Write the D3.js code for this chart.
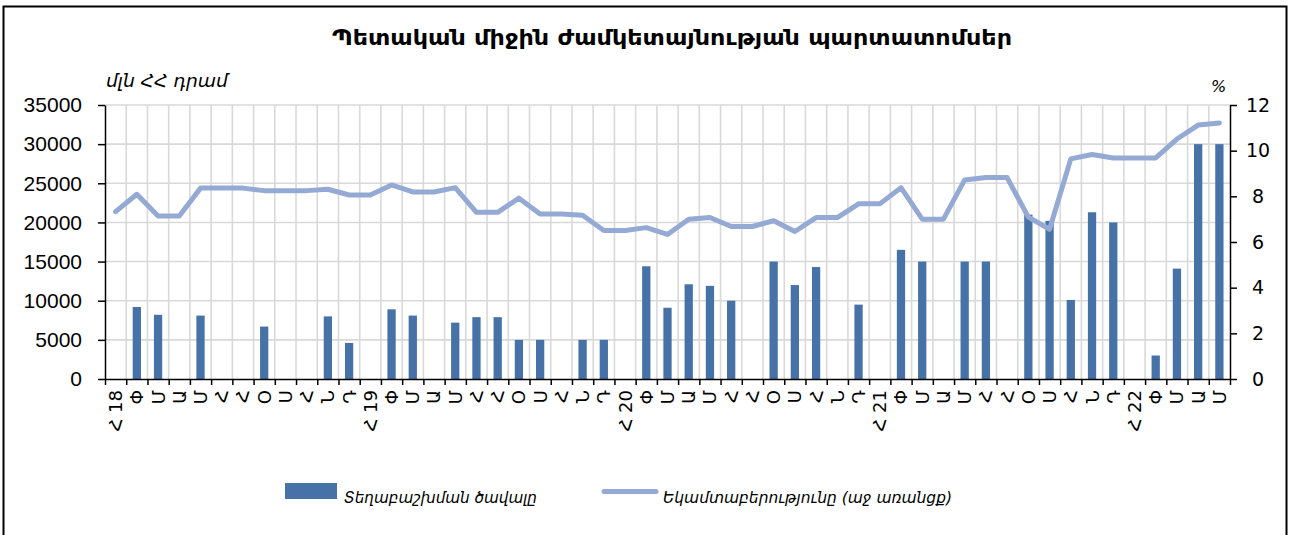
<!DOCTYPE html>
<html>
<head>
<meta charset="utf-8">
<script src="https://cdn.jsdelivr.net/npm/d3@7"></script>
<style>
  html, body { margin: 0; padding: 0; background: #ffffff; }
  svg { display: block; }
</style>
</head>
<body>
<svg id="chart" width="1293" height="535"></svg>
<script>
// ---- Data ----
const categories = [
  "Հ 18","Փ","Մ","Ա","Մ","Հ","Հ","Օ","Ս","Հ","Ն","Դ",
  "Հ 19","Փ","Մ","Ա","Մ","Հ","Հ","Օ","Ս","Հ","Ն","Դ",
  "Հ 20","Փ","Մ","Ա","Մ","Հ","Հ","Օ","Ս","Հ","Ն","Դ",
  "Հ 21","Փ","Մ","Ա","Մ","Հ","Հ","Օ","Ս","Հ","Ն","Դ",
  "Հ 22","Փ","Մ","Ա","Մ"
];
// Placement volume, million AMD (null = no placement)
const placement = [
  null, 9200, 8200, null, 8100, null, null, 6700, null, null, 8000, 4600,
  null, 8900, 8100, null, 7200, 7900, 7900, 5000, 5000, null, 5000, 5000,
  null, 14400, 9100, 12100, 11900, 10000, null, 15000, 12000, 14300, null, 9500,
  null, 16500, 15000, null, 15000, 15000, null, 21000, 20200, 10100, 21300, 20000,
  null, 3000, 14100, 30000, 30000
];
// Yield, % (right axis)
const yieldPct = [
  7.33, 8.09, 7.14, 7.14, 8.36, 8.36, 8.36, 8.25, 8.25, 8.25, 8.31, 8.06,
  8.06, 8.50, 8.19, 8.19, 8.38, 7.30, 7.30, 7.92, 7.23, 7.23, 7.17, 6.50,
  6.50, 6.63, 6.33, 7.00, 7.07, 6.68, 6.68, 6.93, 6.46, 7.07, 7.07, 7.67,
  7.67, 8.38, 7.00, 7.00, 8.72, 8.82, 8.82, 7.09, 6.56, 9.64, 9.83, 9.68,
  9.68, 9.68, 10.51, 11.12, 11.21
];
const leftTicks = [0, 5000, 10000, 15000, 20000, 25000, 30000, 35000];
const rightTicks = [0, 2, 4, 6, 8, 10, 12];

const titleText = "Պետական միջին ժամկետայնության պարտատոմսեր";
const leftUnit = "մլն ՀՀ դրամ";
const rightUnit = "%";
const seriesNames = ["Տեղաբաշխման ծավալը", "Եկամտաբերությունը (աջ առանցք)"];

// ---- Styles ----
const barColor = "#4672a8";
const lineColor = "#94aad4";
const gridColor = "#d9d9d9";

const svg = d3.select("#chart");
const L = 105, R = 1230, T = 105, B = 379;

// Frame
svg.append("rect")
  .attr("x", 3.5).attr("y", 6.5).attr("width", 1283).attr("height", 560)
  .attr("fill", "none").attr("stroke", "#000").attr("stroke-width", 2);

// Scales
const idx = d3.range(categories.length);
const x = d3.scaleBand().domain(idx).range([L, R]).padding(0);
const xEdge = d3.scaleLinear().domain([0, categories.length]).range([L, R]);
const yL = d3.scaleLinear().domain([0, 35000]).range([B, T]);
const yR = d3.scaleLinear().domain([0, 12]).range([B, T]);

// Gridlines
const grid = svg.append("g").attr("stroke", gridColor).attr("stroke-width", 1.6);
grid.selectAll("line.h").data(leftTicks.filter(d => d > 0)).join("line")
  .attr("x1", L).attr("x2", R)
  .attr("y1", d => yL(d)).attr("y2", d => yL(d));
grid.selectAll("line.v").data(d3.range(1, categories.length)).join("line")
  .attr("x1", d => xEdge(d)).attr("x2", d => xEdge(d))
  .attr("y1", T).attr("y2", B);

// Bars
const barW = x.bandwidth() * 0.39;
svg.append("g").selectAll("rect")
  .data(placement.map((v, i) => ({ v, i })).filter(d => d.v != null))
  .join("rect")
  .attr("x", d => x(d.i) + (x.bandwidth() - barW) / 2)
  .attr("width", barW)
  .attr("y", d => yL(d.v))
  .attr("height", d => yL(0) - yL(d.v))
  .attr("fill", barColor);

// Line
const line = d3.line()
  .x((d, i) => x(i) + x.bandwidth() / 2)
  .y(d => yR(d));
svg.append("path")
  .datum(yieldPct)
  .attr("d", line)
  .attr("fill", "none")
  .attr("stroke", lineColor)
  .attr("stroke-width", 5)
  .attr("stroke-linejoin", "round")
  .attr("stroke-linecap", "round");

// Left axis
const gL = svg.append("g").attr("transform", `translate(${L},0)`)
  .call(d3.axisLeft(yL).tickValues(leftTicks).tickSize(7).tickSizeOuter(0).tickPadding(16).tickFormat(d3.format("d")));
gL.selectAll("text").attr("font-family", "'Liberation Sans', Arial, sans-serif").attr("font-size", 21).attr("fill", "#000");
gL.selectAll("line, path").attr("stroke", "#000").attr("stroke-width", 1.5);

// Right axis
const gR = svg.append("g").attr("transform", `translate(${R},0)`)
  .call(d3.axisRight(yR).tickValues(rightTicks).tickSize(7).tickSizeOuter(0).tickFormat(d3.format("d")));
gR.selectAll("text").attr("font-family", "'DejaVu Sans', sans-serif").attr("font-size", 19)
  .attr("fill", "#000").attr("text-anchor", "middle").attr("x", 28);
gR.selectAll("line, path").attr("stroke", "#000").attr("stroke-width", 1.5);

// Bottom axis (ticks at category edges)
const gB = svg.append("g").attr("transform", `translate(0,${B})`)
  .call(d3.axisBottom(xEdge).tickValues(d3.range(0, categories.length + 1)).tickSize(6).tickSizeOuter(0).tickFormat(""));
gB.selectAll("line, path").attr("stroke", "#000").attr("stroke-width", 1.5);

// Category labels (rotated)
svg.append("g").selectAll("text")
  .data(categories.map((c, i) => ({ c, i })))
  .join("text")
  .attr("transform", d => `translate(${x(d.i) + x.bandwidth() / 2},${B + 11}) rotate(-90)`)
  .attr("text-anchor", "end")
  .attr("dy", "0.36em")
  .attr("font-family", "'DejaVu Sans', sans-serif")
  .attr("font-size", 18)
  .attr("fill", "#000")
  .text(d => d.c);

// Title
svg.append("text")
  .attr("x", 332).attr("y", 45)
  .attr("font-family", "'DejaVu Sans', sans-serif")
  .attr("font-weight", "bold")
  .attr("font-size", 22)
  .attr("textLength", 680).attr("lengthAdjust", "spacingAndGlyphs")
  .attr("fill", "#000")
  .text(titleText);

// Units
svg.append("text")
  .attr("x", 106).attr("y", 87)
  .attr("font-family", "'DejaVu Sans', sans-serif")
  .attr("font-style", "italic").attr("font-size", 17)
  .attr("textLength", 122).attr("lengthAdjust", "spacingAndGlyphs")
  .text(leftUnit);
svg.append("text")
  .attr("x", 1211).attr("y", 92)
  .attr("font-family", "'DejaVu Sans', sans-serif")
  .attr("font-style", "italic").attr("font-size", 16)
  .text(rightUnit);

// Legend
const lg = svg.append("g");
lg.append("rect").attr("x", 285).attr("y", 483).attr("width", 52).attr("height", 16).attr("fill", barColor);
lg.append("text").attr("x", 344).attr("y", 503)
  .attr("font-family", "'DejaVu Sans', sans-serif").attr("font-style", "italic").attr("font-size", 16)
  .attr("textLength", 193).attr("lengthAdjust", "spacingAndGlyphs")
  .text(seriesNames[0]);
lg.append("line").attr("x1", 604).attr("x2", 656).attr("y1", 491.5).attr("y2", 491.5)
  .attr("stroke", lineColor).attr("stroke-width", 5).attr("stroke-linecap", "round");
lg.append("text").attr("x", 663).attr("y", 503)
  .attr("font-family", "'DejaVu Sans', sans-serif").attr("font-style", "italic").attr("font-size", 16)
  .attr("textLength", 289).attr("lengthAdjust", "spacingAndGlyphs")
  .text(seriesNames[1]);
</script>
</body>
</html>
